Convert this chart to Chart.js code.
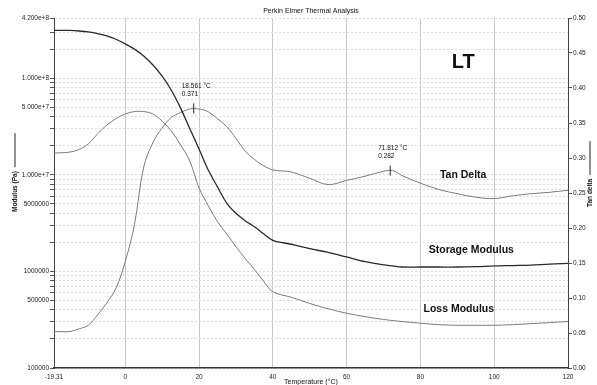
<!DOCTYPE html>
<html>
<head>
<meta charset="utf-8">
<script src="https://cdn.jsdelivr.net/npm/chart.js@4.4.1/dist/chart.umd.min.js"></script>
<style>
  body { margin: 0; background: #fff; }
  canvas { display: block; }
</style>
</head>
<body>
<canvas id="dmaChart" width="597" height="385"></canvas>
<script>
const temps = [-19.31, -17.5, -15, -12.5, -10, -7.5, -5, -2.5, 0, 2.5, 5, 7.5, 10, 12.5, 15, 17.5, 20, 22.5, 25, 27.5, 30, 32.5, 35, 37.5, 40, 45, 50, 55, 60, 65, 70, 72.5, 75, 80, 85, 90, 95, 100, 105, 110, 115, 120];
const storageModulus = [3.13e8, 3.13e8, 3.12e8, 3.08e8, 3.01e8, 2.9e8, 2.75e8, 2.53e8, 2.27e8, 2.0e8, 1.7e8, 1.37e8, 1.05e8, 7.5e7, 4.9e7, 3.0e7, 1.85e7, 1.12e7, 7.5e6, 5.1e6, 4.0e6, 3.35e6, 2.9e6, 2.45e6, 2.1e6, 1.91e6, 1.72e6, 1.57e6, 1.41e6, 1.26e6, 1.17e6, 1.14e6, 1.11e6, 1.11e6, 1.11e6, 1.11e6, 1.12e6, 1.14e6, 1.15e6, 1.16e6, 1.19e6, 1.21e6];
const lossModulus = [1.68e7, 1.69e7, 1.72e7, 1.83e7, 2.09e7, 2.65e7, 3.27e7, 3.82e7, 4.26e7, 4.52e7, 4.52e7, 4.26e7, 3.6e7, 2.84e7, 2.04e7, 1.39e7, 7.3e6, 4.79e6, 3.27e6, 2.44e6, 1.81e6, 1.36e6, 1.05e6, 7.9e5, 6.15e5, 5.4e5, 4.66e5, 4.1e5, 3.69e5, 3.4e5, 3.18e5, 3.1e5, 3.03e5, 2.91e5, 2.81e5, 2.77e5, 2.77e5, 2.77e5, 2.81e5, 2.88e5, 2.95e5, 3.03e5];
const tanDelta = [0.052, 0.052, 0.052, 0.056, 0.061, 0.076, 0.093, 0.114, 0.152, 0.205, 0.287, 0.322, 0.343, 0.358, 0.365, 0.370, 0.370, 0.366, 0.356, 0.345, 0.328, 0.310, 0.298, 0.289, 0.283, 0.280, 0.271, 0.262, 0.268, 0.274, 0.281, 0.282, 0.275, 0.264, 0.255, 0.249, 0.244, 0.242, 0.246, 0.249, 0.251, 0.254];

const xTicks = [-19.31, 0, 20, 40, 60, 80, 100, 120];
const modulusTickValues = [1e5, 5e5, 1e6, 5e6, 1e7, 5e7, 1e8, 4.2e8];
const modulusTickText = ['100000', '500000', '1000000', '5000000', '1.000e+7', '5.000e+7', '1.000e+8', '4.200e+8'];

const peakTemps = [18.561, 71.812];
const peakTan = [0.371, 0.282];

const chartTitle = 'Perkin Elmer Thermal Analysis';
const sampleName = 'LT';
const curveNames = ['Tan Delta', 'Storage Modulus', 'Loss Modulus'];

const FONT = '"Liberation Sans", Arial, sans-serif';

// grid lines on the log axis: every 1..9 step of each decade
function logGrid() {
    const out = [];
    for (let e = 5; e <= 8; e++) {
        for (let m = 1; m <= 9; m++) {
            const v = m * Math.pow(10, e);
            if (v < 4e8) out.push(v);
        }
    }
    out.push(4.2e8);
    return out;
}

function modulusLabel(v) {
    const i = modulusTickValues.findIndex(t => Math.abs(t - v) / t < 1e-6);
    return i >= 0 ? modulusTickText[i] : '';
}

// title, axis names, peak markers and curve names
const textPlugin = {
    id: 'dmaText',
    afterDraw(chart) {
        const { ctx, chartArea, scales } = chart;
        const xs = scales.x, ts = scales.y1;
        const mid = (chartArea.left + chartArea.right) / 2;

        ctx.save();
        ctx.fillStyle = '#111';
        ctx.strokeStyle = '#222';
        ctx.textBaseline = 'middle';

        ctx.font = '7px ' + FONT;
        ctx.textAlign = 'center';
        ctx.fillText(chartTitle, mid, 11);
        ctx.fillText('Temperature (°C)', mid, 382);

        // peak markers
        peakTemps.forEach((t, i) => {
            const px = xs.getPixelForValue(t);
            const py = ts.getPixelForValue(peakTan[i]);
            ctx.lineWidth = 1;
            ctx.beginPath();
            ctx.moveTo(px, py - 5);
            ctx.lineTo(px, py + 5);
            ctx.stroke();
            ctx.textAlign = 'left';
            ctx.font = '6.5px ' + FONT;
            ctx.fillText(t.toFixed(3) + ' °C', px - 12, py - 22);
            ctx.fillText(peakTan[i].toFixed(3), px - 12, py - 14);
        });

        // axis names, rotated
        const sideTitle = (txt, x, y) => {
            ctx.save();
            ctx.translate(x, y);
            ctx.rotate(-Math.PI / 2);
            ctx.textAlign = 'left';
            ctx.font = 'bold 6.5px ' + FONT;
            ctx.fillText(txt, 0, 0);
            const w = ctx.measureText(txt).width;
            ctx.lineWidth = 1;
            ctx.beginPath();
            ctx.moveTo(w + 4, 0);
            ctx.lineTo(w + 38, 0);
            ctx.stroke();
            ctx.restore();
        };
        sideTitle('Modulus (Pa)', 15, 212);
        sideTitle('Tan delta', 590, 207);

        // sample name and curve names (placed in temperature / tan delta units)
        ctx.textAlign = 'center';
        ctx.font = 'bold 20px ' + FONT;
        ctx.fillText(sampleName, xs.getPixelForValue(91.6), ts.getPixelForValue(0.436));
        ctx.font = 'bold 10.5px ' + FONT;
        ctx.fillText(curveNames[0], xs.getPixelForValue(91.6), ts.getPixelForValue(0.275));
        ctx.fillText(curveNames[1], xs.getPixelForValue(93.8), ts.getPixelForValue(0.168));
        ctx.fillText(curveNames[2], xs.getPixelForValue(90.4), ts.getPixelForValue(0.084));
        ctx.restore();
    }
};

const toPoints = (ys) => temps.map((t, i) => ({ x: t, y: ys[i] }));

new Chart(document.getElementById('dmaChart'), {
    type: 'line',
    data: {
        datasets: [
            { label: 'Storage Modulus', data: toPoints(storageModulus), yAxisID: 'y', borderColor: '#2a2a2a', borderWidth: 1.3 },
            { label: 'Loss Modulus', data: toPoints(lossModulus), yAxisID: 'y', borderColor: '#7a7a7a', borderWidth: 1 },
            { label: 'Tan Delta', data: toPoints(tanDelta), yAxisID: 'y1', borderColor: '#7a7a7a', borderWidth: 1 }
        ]
    },
    options: {
        responsive: false,
        animation: false,
        layout: { padding: { top: 18 } },
        elements: {
            point: { radius: 0 },
            line: { tension: 0.35, fill: false }
        },
        plugins: {
            legend: { display: false },
            tooltip: { enabled: false },
            title: { display: false }
        },
        scales: {
            x: {
                type: 'linear',
                min: -19.31,
                max: 120,
                afterBuildTicks: (scale) => { scale.ticks = xTicks.map(v => ({ value: v })); },
                afterFit: (scale) => { scale.height = 17; },
                ticks: {
                    autoSkip: false,
                    maxRotation: 0,
                    padding: 5,
                    color: '#222',
                    font: { family: FONT, size: 6.5 },
                    callback: (v) => String(v)
                },
                grid: {
                    drawTicks: false,
                    color: (c) => (c.tick && (c.tick.value === -19.31 || c.tick.value === 120)) ? 'rgba(0,0,0,0)' : '#c8c8c8',
                    lineWidth: 1
                },
                border: { color: '#333', width: 1.5 }
            },
            y: {
                type: 'logarithmic',
                position: 'left',
                min: 1e5,
                max: 4.2e8,
                afterBuildTicks: (scale) => { scale.ticks = logGrid().map(v => ({ value: v })); },
                afterFit: (scale) => { scale.width = 54; },
                ticks: {
                    autoSkip: false,
                    padding: 1,
                    color: '#222',
                    font: { family: FONT, size: 6.5 },
                    callback: (v) => modulusLabel(v)
                },
                grid: {
                    color: '#dcdcdc',
                    lineWidth: 1,
                    tickLength: 4,
                    tickColor: '#555',
                    tickBorderDash: []
                },
                border: { color: '#444', width: 1, dash: [2, 2] }
            },
            y1: {
                type: 'linear',
                position: 'right',
                min: 0,
                max: 0.5,
                afterFit: (scale) => { scale.width = 29; },
                ticks: {
                    stepSize: 0.05,
                    padding: 1,
                    color: '#222',
                    font: { family: FONT, size: 6.5 },
                    callback: (v) => v.toFixed(2)
                },
                grid: {
                    drawOnChartArea: false,
                    tickLength: 4,
                    tickColor: '#555'
                },
                border: { color: '#444', width: 1 }
            }
        }
    },
    plugins: [textPlugin]
});
</script>
</body>
</html>
